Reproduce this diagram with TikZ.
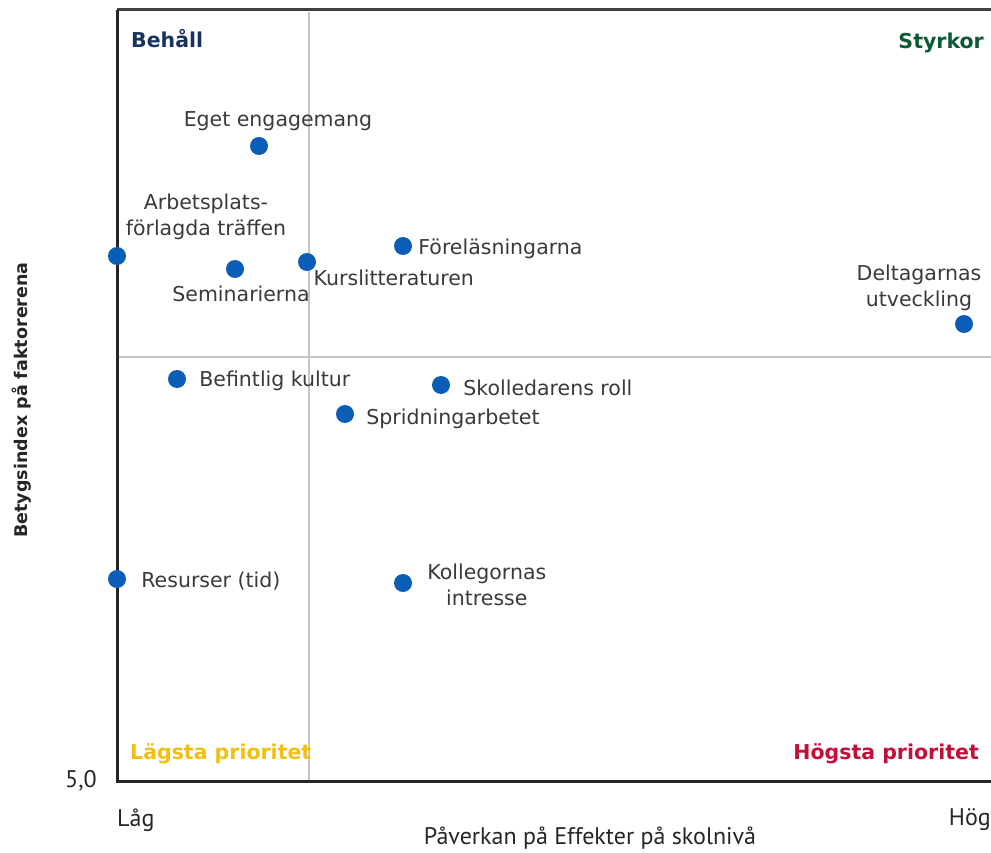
\documentclass[tikz,border=0pt]{standalone}
\usepackage{fontspec}
\setmainfont{DejaVu Sans}
\newfontfamily\axisfont{PT Sans}
\usetikzlibrary{positioning}
\definecolor{dotblue}{HTML}{0A5EB8}
\definecolor{labelgrey}{HTML}{3A3A3A}
\definecolor{gridgrey}{HTML}{CBC4C4}
\definecolor{behallblue}{HTML}{17335E}
\definecolor{styrkgreen}{HTML}{0B5A36}
\definecolor{lagyellow}{HTML}{F0C010}
\definecolor{hogred}{HTML}{C0103A}
\begin{document}
\begin{tikzpicture}[x=1pt,y=-1pt,
  dot/.style={circle,fill=dotblue,inner sep=0pt,minimum size=18pt},
  lbl/.style={text=labelgrey,font=\fontsize{20.5}{26}\selectfont,inner sep=1pt,align=center},
  quad/.style={font=\bfseries\fontsize{20.5}{24}\selectfont,inner sep=0pt},
  axislbl/.style={font=\axisfont\fontsize{24}{28}\selectfont,text=black!85,inner sep=0pt}]
\useasboundingbox[fill=white] (0,0) rectangle (991,853);
% grid and axes
\draw[gridgrey,line width=2pt] (309,12) -- (309,781);
\draw[gridgrey,line width=2pt] (117,357) -- (991,357);
\draw[black!75,line width=3pt] (117,10) -- (991,10);
\draw[black!85,line width=3pt] (117,10) -- (117,781) -- (991,781);
% quadrants
\node[quad,text=behallblue,anchor=west] (behall) at (131,39) {Behåll};
\node[quad,text=styrkgreen,anchor=east] (styrkor) at (984,43) {Styrkor};
\node[quad,text=lagyellow,anchor=west] (lagsta) at (130,754) {Lägsta prioritet};
\node[quad,text=hogred,anchor=east] (hogsta) at (979,754) {Högsta prioritet};
% points
\node[dot] (eget) at (259,146) {};
\node[dot] (arb) at (117,256) {};
\node[dot] (semi) at (235,269) {};
\node[dot] (kurs) at (307,262) {};
\node[dot] (fore) at (403,246) {};
\node[dot] (delt) at (964,324) {};
\node[dot] (befk) at (177,379) {};
\node[dot] (skol) at (441,385) {};
\node[dot] (sprid) at (345,414) {};
\node[dot] (res) at (117,579) {};
\node[dot] (koll) at (403,583) {};
% point labels
\node[lbl,above=5pt of eget,xshift=19pt] (egetlbl) {Eget engagemang};
\node[lbl] (arblbl) at (206,217) {Arbetsplats-\\förlagda träffen};
\node[lbl,below=7pt of semi,xshift=6pt] (semilbl) {Seminarierna};
\node[lbl,below right=0pt and -1pt of kurs] (kurslbl) {Kurslitteraturen};
\node[lbl,right=5pt of fore,yshift=-3pt] (forelbl) {Föreläsningarna};
\node[lbl] (deltlbl) at (919,288) {Deltagarnas\\utveckling};
\node[lbl,right=12pt of befk,yshift=-2pt] (befklbl) {Befintlig kultur};
\node[lbl,right=12pt of skol,yshift=-3pt] (skollbl) {Skolledarens roll};
\node[lbl,right=11pt of sprid,yshift=-5pt] (spridlbl) {Spridningarbetet};
\node[lbl,right=14pt of res,yshift=-2pt] (reslbl) {Resurser (tid)};
\node[lbl,right=14pt of koll,yshift=-2pt] (kolllbl) {Kollegornas\\intresse};
% axis labels
\node[axislbl,anchor=east] (ymin) at (97,781) {5,0};
\node[axislbl,anchor=west] (xlow) at (117,820) {Låg};
\node[axislbl,anchor=east] (xhigh) at (991,820) {Hög};
\node[axislbl] (xtitle) at (590,838) {Påverkan på Effekter på skolnivå};
\node[font=\bfseries\fontsize{17.5}{20}\selectfont,text=black!85,rotate=90] (ytitle) at (22,400) {Betygsindex på faktorerena};
\end{tikzpicture}
\end{document}
